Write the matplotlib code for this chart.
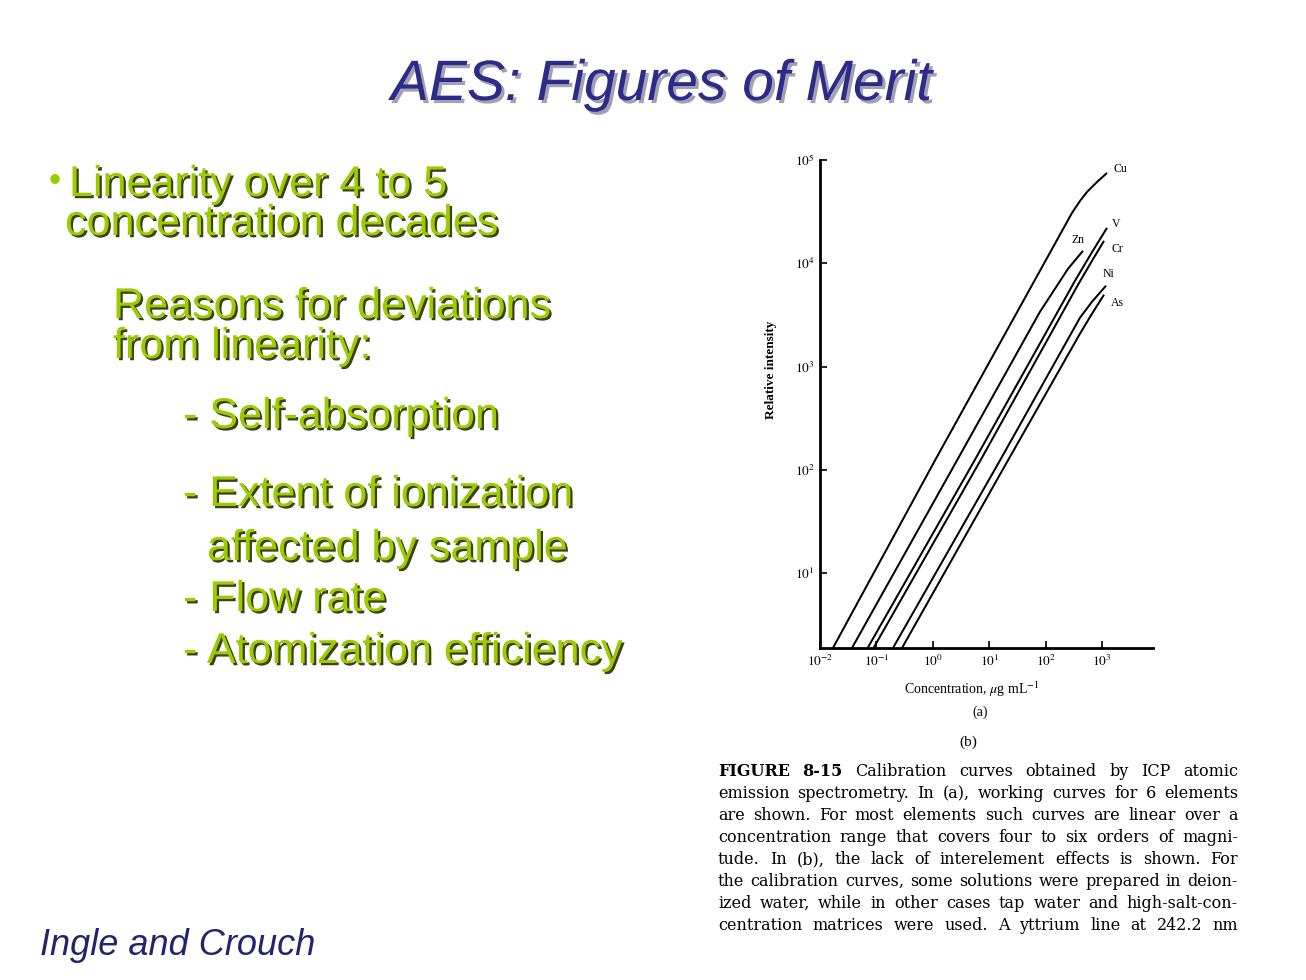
import matplotlib
matplotlib.use("Agg")
import matplotlib.pyplot as plt
import matplotlib.patheffects as pe

W, H = 1306, 980
plt.rcParams['mathtext.fontset'] = 'stix'

# slide text
title = "AES: Figures of Merit"
bullet_lines = [
    ("Linearity over 4 to 5", 69, 196),
    ("concentration decades", 65, 235),
    ("Reasons for deviations", 113, 318),
    ("from linearity:", 113, 358),
    ("- Self-absorption", 183, 428),
    ("- Extent of ionization", 183, 506),
    ("affected by sample", 207, 560),
    ("- Flow rate", 183, 611),
    ("- Atomization efficiency", 183, 663),
]
credit = "Ingle and Crouch"

# calibration curves (conc ug/mL, relative intensity)
elements = ['Cu', 'Zn', 'V', 'Cr', 'Ni', 'As']
cu_conc = [0.01698, 1.094, 293.9, 407.3, 542, 815, 1226]
cu_int = [1.886, 123.5, 30750, 40180, 49070, 61240, 74860]
zn_conc = [0.0369, 2.686, 79.6, 146.8, 249.6, 460.3]
zn_int = [1.886, 123.5, 3400, 5670, 8850, 13210]
v_conc = [0.0700, 5.50, 332.1, 638, 1226]
v_int = [1.886, 123.5, 6774, 12350, 22030]
cr_conc = [0.0890, 7.00, 375.4, 665, 1085]
cr_int = [1.886, 123.5, 6199, 10570, 16500]
ni_conc = [0.1968, 15.54, 407.3, 665, 1177]
ni_int = [1.886, 123.5, 2974, 4246, 6062]
as_conc = [0.2844, 21.5, 407.3, 665, 1085]
as_int = [1.886, 123.5, 2084, 3252, 4963]
curves = [(cu_conc, cu_int), (zn_conc, zn_int), (v_conc, v_int),
          (cr_conc, cr_int), (ni_conc, ni_int), (as_conc, as_int)]
label_offsets = [(13, 4), (-5, 11), (9, 4), (13, -8), (2, 12), (13, -8)]

x_ticks = [1e-2, 1e-1, 1, 10, 100, 1000]
x_ticklabels = [r'$10^{-2}$', r'$10^{-1}$', r'$10^{0}$', r'$10^{1}$', r'$10^{2}$', r'$10^{3}$']
y_ticks = [10, 100, 1000, 10000, 100000]
y_ticklabels = [r'$10^{1}$', r'$10^{2}$', r'$10^{3}$', r'$10^{4}$', r'$10^{5}$']

caption = [
    "FIGURE 8-15  Calibration curves obtained by ICP atomic",
    "emission spectrometry. In (a), working curves for 6 elements",
    "are shown. For most elements such curves are linear over a",
    "concentration range that covers four to six orders of magni-",
    "tude. In (b), the lack of interelement effects is shown. For",
    "the calibration curves, some solutions were prepared in deion-",
    "ized water, while in other cases tap water and high-salt-con-",
    "centration matrices were used. A yttrium line at 242.2 nm",
]

fig = plt.figure(figsize=(W / 100, H / 100), dpi=100)
fig.patch.set_facecolor('white')

def px(x, y):
    return x / W, 1 - y / H

# title
fig.text(*px(662, 100), title, family='Liberation Sans', style='italic',
         fontsize=41, color='#2d2b8a', ha='center', va='baseline',
         path_effects=[pe.withSimplePatchShadow(offset=(2.2, -2.2), shadow_rgbFace='#8a8aa0', alpha=0.8)])

green_fx = [pe.withSimplePatchShadow(offset=(1.6, -1.6), shadow_rgbFace='#2a2a00', alpha=0.9)]
fig.text(*px(49, 191), "\u2022", family='Liberation Sans', fontsize=25,
         color='#9acc00', ha='left', va='baseline')
for txt, x, y in bullet_lines:
    fig.text(*px(x, y), txt, family='Liberation Sans', fontsize=31,
             color='#9acc00', ha='left', va='baseline', path_effects=green_fx)

fig.text(*px(40, 955), credit, family='Liberation Sans', style='italic',
         fontsize=26, color='#23236e', ha='left', va='baseline')

# calibration plot
left, right, top, bottom = 820, 1153, 160, 648
ax = fig.add_axes([left / W, 1 - bottom / H, (right - left) / W, (bottom - top) / H])
for (c, i), name, off in zip(curves, elements, label_offsets):
    ax.plot(c, i, color='black', lw=1.45, solid_capstyle='butt', solid_joinstyle='round')
    ax.annotate(name, (c[-1], i[-1]), xytext=off, textcoords='offset pixels',
                ha='center', va='center', family='Liberation Serif', fontsize=8.5)
ax.set_xscale('log')
ax.set_yscale('log')
ax.set_xlim(1e-2, 10 ** 3.904)
ax.set_ylim(10 ** 0.275, 1e5)
ax.set_xticks(x_ticks)
ax.set_xticklabels(x_ticklabels)
ax.set_yticks(y_ticks)
ax.set_yticklabels(y_ticklabels)
ax.minorticks_off()
ax.tick_params(direction='in', length=5, width=1.2, labelsize=9.5, pad=4)
for s in ['top', 'right']:
    ax.spines[s].set_visible(False)
for s in ['left', 'bottom']:
    ax.spines[s].set_linewidth(2)
ax.set_xlabel(r'Concentration, $\mu$g mL$^{-1}$', family='Liberation Serif', fontsize=10)
ax.xaxis.set_label_coords(0.456, -0.065)
fig.text(*px(771, 370), 'Relative intensity', family='Liberation Serif', fontweight='bold',
         fontsize=9.5, rotation=90, ha='center', va='center')
fig.text(*px(980, 712), '(a)', family='Liberation Serif', fontsize=10, ha='center', va='center')
fig.text(*px(968, 742), '(b)', family='Liberation Serif', fontsize=11, ha='center', va='center')

# justified caption, font size chosen so the widest line just fits
r = fig.canvas.get_renderer()
x0, x1, y0, dy = 718, 1238, 776, 22
probe = [fig.text(0, 0, ln, family='DejaVu Serif', fontsize=10) for ln in caption]
widest = max(t.get_window_extent(r).width for t in probe)
for t in probe:
    t.remove()
cap_size = 10 * (x1 - x0) / widest * 0.985
for n, line in enumerate(caption):
    words = line.split()
    items = []
    for k, w in enumerate(words):
        bold = n == 0 and k < 2
        t = fig.text(0, 0, w, family='DejaVu Serif', fontsize=cap_size,
                     fontweight='bold' if bold else 'normal', va='baseline', ha='left')
        items.append((t, t.get_window_extent(r).width))
    total = sum(wd for _, wd in items)
    gap = (x1 - x0 - total) / (len(items) - 1)
    x = x0
    for t, wd in items:
        t.set_position(px(x, y0 + n * dy))
        x += wd + gap

fig.savefig('out.png', dpi=100, facecolor='white')
